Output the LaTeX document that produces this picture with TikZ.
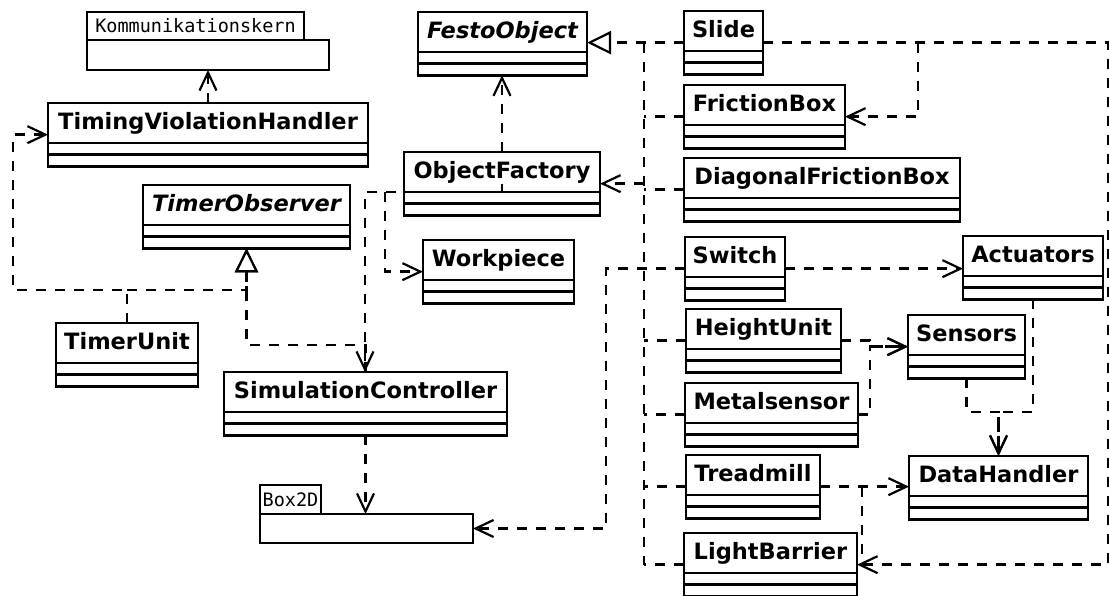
\documentclass[tikz,border=0pt]{standalone}
\usepackage{fontspec}
\setmainfont{DejaVu Sans}
\newfontfamily\pkgfont{DejaVu Sans Mono}
\usetikzlibrary{shapes.multipart,arrows.meta}
\newcommand{\lw}{2.6pt}

\begin{document}
\begin{tikzpicture}[x=1pt, y=-1pt,
    umlclass/.style={draw, fill=white, line width=\lw, rectangle split, rectangle split parts=3,
        inner xsep=0pt, inner ysep=0pt, outer sep=0pt, anchor=north west,
        font=\fontsize{22.5}{26}\selectfont\bfseries},
    pkgbox/.style={draw, fill=white, line width=\lw, inner sep=0pt, outer sep=0pt,
        font=\pkgfont\fontsize{18.5}{20}\selectfont},
    dashline/.style={line width=\lw, dash pattern=on 10pt off 9pt},
    depline/.style={dashline, -{Straight Barb[length=18pt, width=17pt, line width=2.2pt]}},
    realline/.style={dashline, -{Triangle[open, fill=white, length=24pt, width=23pt, line width=2.2pt]}}]
    %\draw[help lines, step=50] (0,0) grid (1109,595);
    \useasboundingbox (0,0) rectangle (1109,595);

    % packages
    \node[pkgbox, anchor=north west, minimum width=242pt, minimum height=30pt] (kern) at (87,40) {};
    \node[pkgbox, anchor=south west, minimum width=217pt, minimum height=28pt] (kerntab) at (kern.north west) {Kommunikationskern};
    \node[pkgbox, anchor=north west, minimum width=213pt, minimum height=29pt] (b2d) at (260,514) {};
    \node[pkgbox, anchor=south west, minimum width=61pt, minimum height=29pt] (b2dtab) at (b2d.north west) {Box2D};

    % classes
    \foreach \n/\x/\y/\w/\txt in {
        tvh/48/103/320/TimingViolationHandler,
        tobs/143/185/207/{\itshape TimerObserver},
        tu/56/323/142/TimerUnit,
        of/404/152/196/ObjectFactory,
        wp/423/240/151/Workpiece,
        sc/224/372/283/SimulationController,
        festo/418/12/169/{\itshape FestoObject},
        slide/684/11/79/Slide,
        fb/684/85/161/FrictionBox,
        dfb/684/158/276/DiagonalFrictionBox,
        sw/685/237/100/Switch,
        act/963/236/140/Actuators,
        hu/686/309/155/HeightUnit,
        sen/908/315/117/Sensors,
        ms/685/383/173/Metalsensor,
        tm/686/455/134/Treadmill,
        dh/909/456/179/DataHandler,
        lb/684/533/173/LightBarrier} {
        \node[umlclass, minimum width=\w pt] (\n) at (\x,\y)
            {\rule[-12.5pt]{0pt}{37.5pt}\txt\nodepart{two}\rule{0pt}{9pt}\nodepart{three}\rule{0pt}{9pt}};
    }

    \coordinate (tree) at (644,0);
    \coordinate (rim) at (1108,0);
    \coordinate (fbk) at (918,0);
    \coordinate (swk) at (606,0);
    \coordinate (sk) at (870,0);
    \coordinate (tk) at (862,0);
    \coordinate (dk) at (0,412);
    \coordinate (lk) at (13,290);
    \coordinate (sck) at (0,345);
    \coordinate (ofk) at (365,192);
    \coordinate (wpk) at (385,192);

    % FestoObject hierarchy
    \draw[dashline] (tree |- slide.west) -- (tree |- lb.west);
    \foreach \c in {fb,dfb,hu,ms,tm,lb}
        \draw[dashline] (\c.west) -- (tree |- \c.west);
    \draw[realline] (slide.west) -- (festo.east |- slide.west);
    \draw[depline] (tree |- of.east) -- (of.east);
    \draw[depline] (of.north) -- (of.north |- festo.south);

    % ObjectFactory
    \draw[depline] (of.center) |- (ofk) -- (ofk |- sc.north);
    \draw[depline] (wpk) |- (wp.west);

    % timer
    \draw[depline] (tvh.north) -- (tvh.north |- kern.south);
    \draw[depline] (tu.north) |- (lk) |- (tvh.west);
    \draw[realline] (tu.north |- lk) -| (tobs.south);
    \draw[realline] (sc.north) -- (sc.north |- sck) -| (tobs.south);
    \draw[depline] (sc.south) -- (sc.south |- b2d.north);

    % right side
    \draw[depline] (slide.east) -- (slide.east -| rim) |- (lb.east);
    \draw[depline] (slide.east -| fbk) |- (fb.east);
    \draw[depline] (sw.west) -- (sw.west -| swk) |- (b2d.east);
    \draw[depline] (sw.east) -- (sw.east -| act.west);
    \draw[depline] (hu.east) -- (hu.east -| sk) -- (sk |- sen.west) -- (sen.west);
    \draw[depline] (ms.east) -- (ms.east -| sk) -- (sk |- sen.west) -- (sen.west);
    \draw[depline] (tm.east) -- (tm.east -| dh.west);
    \draw[dashline] (tm.east -| tk) -- (tk |- lb.east);
    \draw[depline] (sen.south) -- (sen.south |- dk) -| (dh.north);
    \draw[depline] (act.south) -- (act.south |- dk) -| (dh.north);
\end{tikzpicture}
\end{document}
